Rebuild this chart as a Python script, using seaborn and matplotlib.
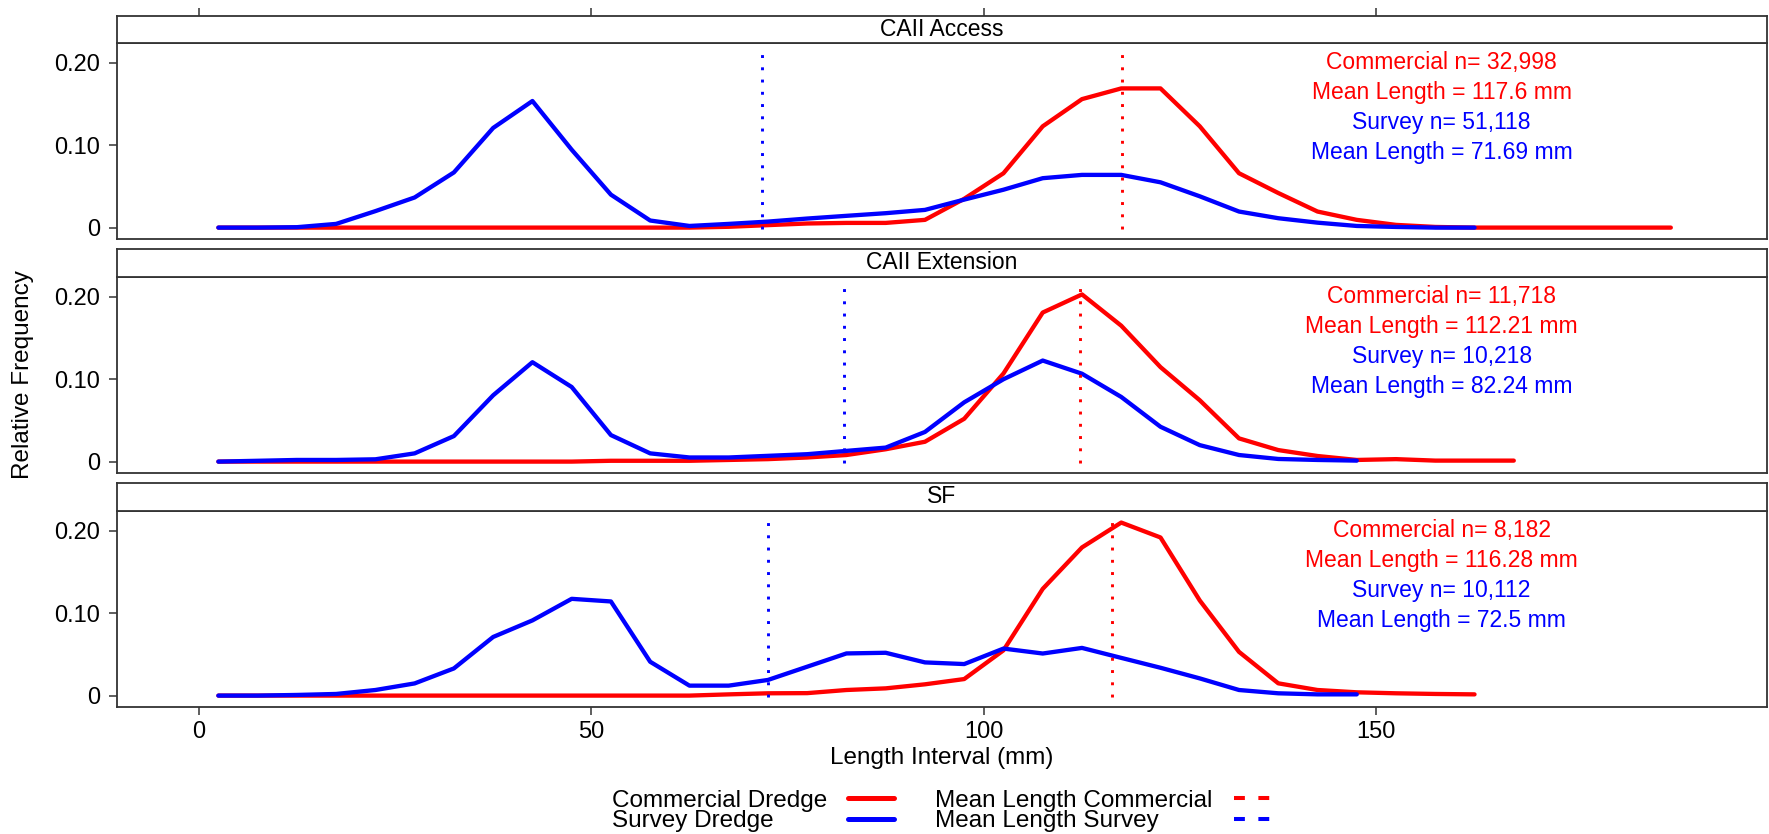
import numpy as np
import pandas as pd
import matplotlib
matplotlib.use("Agg")
import matplotlib.pyplot as plt
from matplotlib.lines import Line2D
import seaborn as sns

# ---------------- data ----------------
length_mid = [2.5, 7.5, 12.5, 17.5, 22.5, 27.5, 32.5, 37.5, 42.5, 47.5,
              52.5, 57.5, 62.5, 67.5, 72.5, 77.5, 82.5, 87.5, 92.5, 97.5,
              102.5, 107.5, 112.5, 117.5, 122.5, 127.5, 132.5, 137.5, 142.5, 147.5,
              152.5, 157.5, 162.5, 167.5, 172.5, 177.5, 182.5, 187.5]

areas = ["CAII Access", "CAII Extension", "SF"]

access_commercial = [0, 0, 0, 0, 0, 0, 0, 0, 0, 0,
                     0, 0, 0, 0.001, 0.003, 0.005, 0.0057, 0.0057, 0.0094, 0.035,
                     0.066, 0.123, 0.156, 0.169, 0.169, 0.123, 0.066, 0.042, 0.0195, 0.0094,
                     0.0033, 0.0008, 0, 0, 0, 0, 0, 0]
access_survey = [0, 0, 0.0005, 0.0045, 0.020, 0.0366, 0.067, 0.121, 0.1537, 0.0946,
                 0.040, 0.0086, 0.002, 0.0045, 0.0073, 0.011, 0.0143, 0.0175, 0.0215, 0.034,
                 0.046, 0.060, 0.064, 0.064, 0.055, 0.038, 0.0195, 0.0114, 0.006, 0.002,
                 0.0008, 0, 0]

extension_commercial = [0, 0, 0, 0, 0, 0, 0, 0, 0, 0,
                        0.001, 0.001, 0.001, 0.002, 0.003, 0.005, 0.008, 0.015, 0.0241, 0.052,
                        0.107, 0.181, 0.203, 0.165, 0.1147, 0.0745, 0.0282, 0.014, 0.0068, 0.002,
                        0.003, 0.0012, 0.0012, 0.0012]
extension_survey = [0, 0.001, 0.002, 0.002, 0.0028, 0.010, 0.031, 0.0805, 0.1207, 0.0906,
                    0.0322, 0.010, 0.005, 0.005, 0.007, 0.009, 0.013, 0.017, 0.036, 0.072,
                    0.100, 0.1227, 0.1067, 0.0785, 0.0423, 0.020, 0.008, 0.0032, 0.002, 0.0012]

sf_commercial = [0, 0, 0, 0, 0, 0, 0, 0, 0, 0,
                 0, 0, 0, 0.0015, 0.0028, 0.003, 0.0068, 0.0088, 0.0137, 0.0201,
                 0.055, 0.1296, 0.1799, 0.2101, 0.192, 0.1155, 0.0531, 0.0149, 0.0068, 0.004,
                 0.0028, 0.002, 0.0015]
sf_survey = [0, 0, 0.0008, 0.002, 0.0068, 0.0148, 0.033, 0.0712, 0.0913, 0.1175,
             0.1143, 0.0411, 0.0121, 0.0121, 0.019, 0.0351, 0.0512, 0.052, 0.0403, 0.0383,
             0.0571, 0.0511, 0.0579, 0.0458, 0.0338, 0.0209, 0.0068, 0.0028, 0.0015, 0.0015]

commercial_series = [access_commercial, extension_commercial, sf_commercial]
survey_series = [access_survey, extension_survey, sf_survey]

commercial_n = ["32,998", "11,718", "8,182"]
commercial_mean = [117.6, 112.21, 116.28]
survey_n = ["51,118", "10,218", "10,112"]
survey_mean = [71.69, 82.24, 72.5]

x_ticks = [0, 50, 100, 150]
y_ticks = [0, 0.10, 0.20]
y_ticklabels = ["0", "0.10", "0.20"]

gear_names = ["Commercial Dredge", "Survey Dredge"]
RED = "#FF0000"
BLUE = "#0000FF"

# ---------------- style ----------------
sns.set_style("white")
plt.rcParams["font.family"] = ["Liberation Sans", "DejaVu Sans"]
plt.rcParams["text.color"] = "black"
plt.rcParams["axes.labelcolor"] = "black"
plt.rcParams["xtick.color"] = "black"
plt.rcParams["ytick.color"] = "black"

W, H = 1769, 834
fig = plt.figure(figsize=(W / 100, H / 100), dpi=100)


def fy(px):
    return 1 - px / H


left_px, right_px = 116.7, 1766.6
xl = left_px / W
xw = (right_px - left_px) / W
panel_px = [(42.7, 239.3), (276.7, 473.3), (510.7, 707.3)]
strip_px = [(15.7, 42.7), (249.0, 276.7), (483.0, 510.7)]

XLIM = (-10.45, 199.7)
YLIM = (-0.0142, 0.2245)
SPINE = "#333333"
dotted = (0, (1, 3.2))

for i, area in enumerate(areas):
    top, bot = panel_px[i]
    ax = fig.add_axes([xl, fy(bot), xw, (bot - top) / H])
    s_top, s_bot = strip_px[i]
    sax = fig.add_axes([xl, fy(s_bot), xw, (s_bot - s_top) / H])

    com = commercial_series[i]
    sur = survey_series[i]
    df = pd.DataFrame({
        "length": length_mid[:len(com)] + length_mid[:len(sur)],
        "freq": com + sur,
        "gear": [gear_names[0]] * len(com) + [gear_names[1]] * len(sur),
    })
    sns.lineplot(data=df, x="length", y="freq", hue="gear", hue_order=gear_names,
                 palette=[RED, BLUE], linewidth=3.1, legend=False, ax=ax,
                 estimator=None, sort=False)

    ax.vlines(survey_mean[i], -0.002, 0.215, colors=BLUE, linewidth=2.1,
              linestyles=dotted)
    ax.vlines(commercial_mean[i], -0.002, 0.215, colors=RED, linewidth=2.1,
              linestyles=dotted)

    ann = [(f"Commercial n= {commercial_n[i]}", RED, 0.1923),
           (f"Mean Length = {commercial_mean[i]} mm", RED, 0.1561),
           (f"Survey n= {survey_n[i]}", BLUE, 0.1199),
           (f"Mean Length = {survey_mean[i]} mm", BLUE, 0.0837)]
    for txt, col, yy in ann:
        ax.text(158.3, yy, txt, color=col, ha="center", va="baseline", fontsize=16.5)

    ax.set_xlim(*XLIM)
    ax.set_ylim(*YLIM)
    ax.set_yticks(y_ticks)
    ax.set_yticklabels(y_ticklabels)
    ax.set_xlabel("")
    ax.set_ylabel("")
    ax.tick_params(axis="y", direction="out", length=6, width=1.1, color=SPINE,
                   labelcolor="black", labelsize=17, pad=6, left=True)
    if i == 2:
        ax.set_xticks(x_ticks)
        ax.tick_params(axis="x", direction="out", length=6, width=1.1, color=SPINE,
                       labelcolor="black", labelsize=17, pad=4, bottom=True)
    else:
        ax.set_xticks([])
    for sp in ax.spines.values():
        sp.set_color(SPINE)
        sp.set_linewidth(1.3)
    ax.grid(False)

    sax.set_xlim(*XLIM)
    sax.set_ylim(0, 1)
    sax.set_yticks([])
    if i == 0:
        sax.set_xticks(x_ticks)
        sax.xaxis.tick_top()
        sax.tick_params(axis="x", direction="out", length=6, width=1.1, color=SPINE,
                        labeltop=False, labelbottom=False, top=True, bottom=False)
    else:
        sax.set_xticks([])
    for sp in sax.spines.values():
        sp.set_color(SPINE)
        sp.set_linewidth(1.3)
    sax.text(0.5, 0.5, area, transform=sax.transAxes, ha="center", va="center",
             fontsize=16.5, color="black")

# axis labels
fig.text(23 / W, fy(375), "Relative Frequency", rotation=90, ha="center",
         va="center", fontsize=17.5, color="black")
fig.text(941.7 / W, fy(764), "Length Interval (mm)", ha="center", va="baseline",
         fontsize=17.5, color="black")

# legend (key text first, then symbol, as in the original)
leg_rows = [(806.7, 798.3), (826.7, 819.3)]
for (base, liney), name, col in zip(leg_rows, gear_names, [RED, BLUE]):
    fig.text(612 / W, fy(base), name, ha="left", va="baseline", fontsize=17.5,
             color="black")
    fig.add_artist(Line2D([848 / W, 894 / W], [fy(liney)] * 2, color=col,
                          linewidth=3.6, transform=fig.transFigure))
for (base, liney), name, col in zip(leg_rows, ["Mean Length Commercial", "Mean Length Survey"], [RED, BLUE]):
    fig.text(935 / W, fy(base), name, ha="left", va="baseline", fontsize=17.5,
             color="black")
    fig.add_artist(Line2D([1234 / W, 1270 / W], [fy(liney)] * 2, color=col,
                          linewidth=2.9, linestyle=(0, (2.7, 3.35)),
                          transform=fig.transFigure))

fig.savefig("out.png", dpi=100)
